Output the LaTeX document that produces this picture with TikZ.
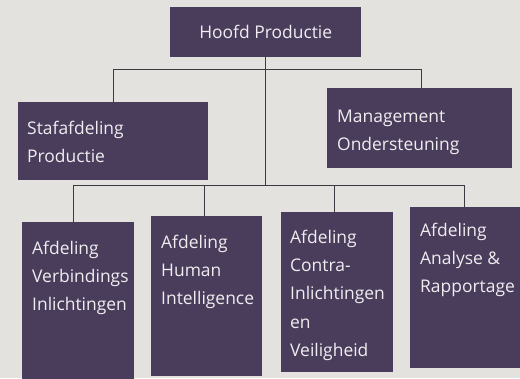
\documentclass[tikz,border=0pt]{standalone}
\usepackage{fontspec}
\setmainfont{Open Sans}
\definecolor{pagebg}{HTML}{E4E2DF}
\definecolor{boxfill}{HTML}{4A3D5C}
\definecolor{boxtext}{HTML}{EFEDF0}
\definecolor{linecol}{HTML}{3C3A40}
\tikzset{
  box/.style={fill=boxfill, draw=none, anchor=north west, inner sep=0pt},
  txt/.style={text=boxtext, anchor=north west, align=left, inner sep=0pt,
    font=\fontsize{17.5}{28.3}\selectfont},
  conn/.style={draw=linecol, line width=0.7pt}
}
\begin{document}
\begin{tikzpicture}[x=1bp,y=-1bp]
\useasboundingbox (0,0) rectangle (520,378);
\clip (0,0) rectangle (520,378);
\fill[pagebg] (0,0) rectangle (520,378);
% boxes
\node[box, minimum width=191bp, minimum height=50bp] (hp) at (170,7) {};
\node[box, minimum width=190bp, minimum height=78bp] (sp) at (18,102) {};
\node[box, minimum width=185bp, minimum height=80bp] (mo) at (327,88) {};
\node[box, minimum width=112bp, minimum height=170bp] (b1) at (22,222) {};
\node[box, minimum width=111bp, minimum height=160bp] (b2) at (151,216) {};
\node[box, minimum width=112bp, minimum height=160bp] (b3) at (281,212) {};
\node[box, minimum width=115bp, minimum height=161bp] (b4) at (410,207) {};
% texts
\node[text=boxtext, inner sep=0pt, font=\fontsize{17.5}{20}\selectfont] (thp) at ([yshift=0bp]hp.center) {Hoofd Productie};
\node[txt] (tsp) at ([xshift=9bp,yshift=-19bp]sp.north west) {Stafafdeling\\Productie};
\node[txt] (tmo) at ([xshift=10bp,yshift=-22bp]mo.north west) {Management\\Ondersteuning};
\node[txt] (tb1) at ([xshift=10bp,yshift=-19bp]b1.north west) {Afdeling\\Verbindings\\Inlichtingen};
\node[txt] (tb2) at ([xshift=10bp,yshift=-19bp]b2.north west) {Afdeling\\Human\\Intelligence};
\node[txt] (tb3) at ([xshift=9bp,yshift=-18bp]b3.north west) {Afdeling\\Contra-\\Inlichtingen\\en\\Veiligheid};
\node[txt] (tb4) at ([xshift=10bp,yshift=-16bp]b4.north west) {Afdeling\\Analyse \&\\Rapportage};
% connectors
\coordinate (tl) at (113,69);
\coordinate (tr) at (421,69);
\coordinate (bl) at (73,185);
\coordinate (bm2) at (204,185);
\coordinate (bm3) at (334,185);
\coordinate (br) at (464,185);
\draw[conn] (hp.south) -- (hp.south |- bl);
\draw[conn] (tl |- sp.north) -- (tl) -- (tr) -- (tr |- mo.north);
\draw[conn] (bl |- b1.north) -- (bl) -- (br) -- (br |- b4.north);
\draw[conn] (bm2 |- b2.north) -- (bm2);
\draw[conn] (bm3 |- b3.north) -- (bm3);
\end{tikzpicture}
\end{document}
